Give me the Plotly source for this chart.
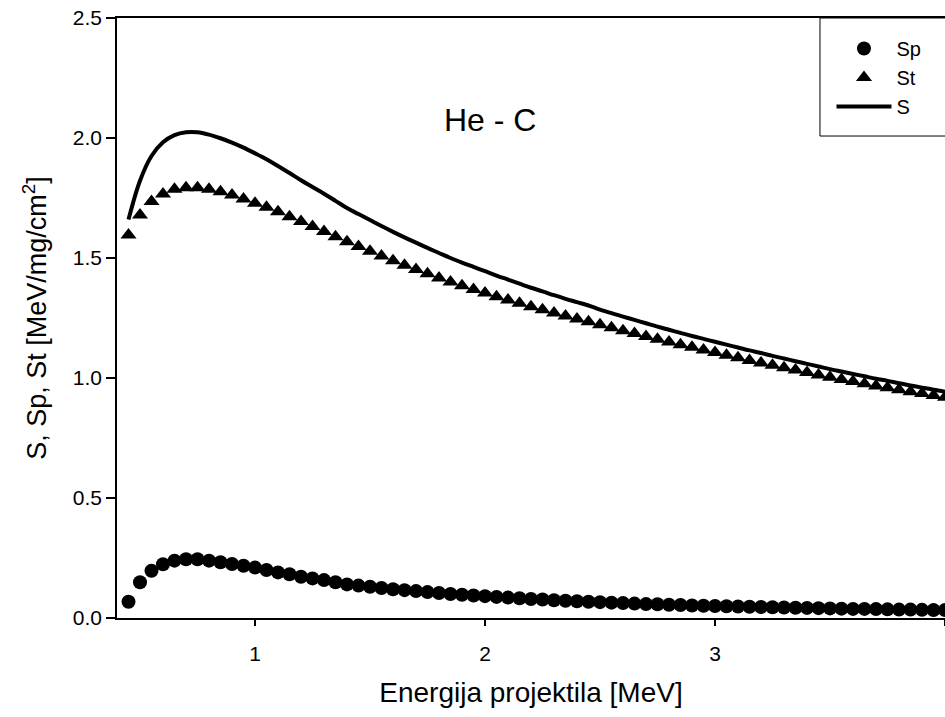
import plotly.graph_objects as go

energy = [0.45, 0.50, 0.55, 0.60, 0.65, 0.70, 0.75, 0.80, 0.85, 0.90, 0.95, 1.00,
          1.05, 1.10, 1.15, 1.20, 1.25, 1.30, 1.35, 1.40, 1.45, 1.50, 1.55, 1.60,
          1.65, 1.70, 1.75, 1.80, 1.85, 1.90, 1.95, 2.00, 2.05, 2.10, 2.15, 2.20,
          2.25, 2.30, 2.35, 2.40, 2.45, 2.50, 2.55, 2.60, 2.65, 2.70, 2.75, 2.80,
          2.85, 2.90, 2.95, 3.00, 3.05, 3.10, 3.15, 3.20, 3.25, 3.30, 3.35, 3.40,
          3.45, 3.50, 3.55, 3.60, 3.65, 3.70, 3.75, 3.80, 3.85, 3.90, 3.95, 4.00]

sp = [0.068, 0.149, 0.197, 0.224, 0.239, 0.245, 0.245, 0.239, 0.232, 0.225, 0.218, 0.210,
      0.200, 0.190, 0.182, 0.172, 0.165, 0.158, 0.149, 0.140, 0.135, 0.130, 0.125, 0.120,
      0.116, 0.112, 0.108, 0.104, 0.100, 0.097, 0.094, 0.091, 0.088, 0.085, 0.082, 0.079,
      0.077, 0.074, 0.072, 0.070, 0.068, 0.066, 0.064, 0.062, 0.060, 0.058, 0.057, 0.055,
      0.054, 0.052, 0.051, 0.050, 0.049, 0.048, 0.047, 0.046, 0.045, 0.044, 0.043, 0.042,
      0.041, 0.040, 0.039, 0.038, 0.038, 0.037, 0.036, 0.035, 0.035, 0.034, 0.033, 0.033]

st = [1.596, 1.679, 1.735, 1.767, 1.786, 1.793, 1.793, 1.786, 1.776, 1.762, 1.746, 1.728,
      1.711, 1.693, 1.672, 1.652, 1.631, 1.610, 1.589, 1.568, 1.548, 1.528, 1.508, 1.489,
      1.470, 1.452, 1.434, 1.417, 1.400, 1.384, 1.369, 1.354, 1.339, 1.325, 1.311, 1.297,
      1.284, 1.271, 1.258, 1.246, 1.234, 1.222, 1.209, 1.197, 1.185, 1.173, 1.161, 1.150,
      1.139, 1.128, 1.117, 1.106, 1.095, 1.084, 1.073, 1.063, 1.053, 1.043, 1.033, 1.023,
      1.013, 1.003, 0.994, 0.985, 0.976, 0.967, 0.959, 0.951, 0.943, 0.935, 0.927, 0.920]

s_total = [1.660, 1.822, 1.925, 1.982, 2.012, 2.024, 2.024, 2.014, 1.999, 1.981, 1.960, 1.936,
           1.911, 1.883, 1.854, 1.824, 1.796, 1.768, 1.738, 1.708, 1.683, 1.658, 1.633, 1.609,
           1.586, 1.564, 1.542, 1.521, 1.500, 1.481, 1.463, 1.445, 1.427, 1.410, 1.393, 1.376,
           1.361, 1.345, 1.330, 1.316, 1.302, 1.285, 1.270, 1.256, 1.242, 1.228, 1.214, 1.201,
           1.188, 1.175, 1.163, 1.151, 1.139, 1.127, 1.115, 1.104, 1.092, 1.081, 1.070, 1.059,
           1.048, 1.037, 1.027, 1.017, 1.007, 0.997, 0.988, 0.978, 0.969, 0.960, 0.951, 0.943]

x_ticks = [1, 2, 3, 4]
y_ticks = [0.0, 0.5, 1.0, 1.5, 2.0, 2.5]
y_tick_labels = ["0.0", "0.5", "1.0", "1.5", "2.0", "2.5"]

FONT = "Liberation Sans, Arial, sans-serif"

fig = go.Figure()
fig.add_trace(go.Scatter(x=energy, y=sp, mode="markers", name="Sp", legendgroup="a",
                         marker=dict(symbol="circle", size=14, color="black")))
fig.add_trace(go.Scatter(x=energy, y=st, mode="markers", name="St", legendgroup="b",
                         marker=dict(symbol="triangle-up", size=14, color="black")))
fig.add_trace(go.Scatter(x=energy, y=s_total, mode="lines", name="S", legendgroup="c",
                         line=dict(color="black", width=4, shape="spline")))

fig.add_annotation(x=2.02, y=2.075, xref="x", yref="y", text="He - C", showarrow=False,
                   font=dict(family=FONT, size=32, color="black"))

# legend frame
fig.add_shape(type="rect", xref="paper", yref="paper", x0=0.849, x1=1.05, y0=0.8033, y1=1.0,
              line=dict(color="black", width=1), fillcolor="white", layer="below")

fig.update_layout(
    width=945, height=717,
    margin=dict(l=117, r=0, t=18, b=99, autoexpand=False),
    paper_bgcolor="white", plot_bgcolor="white",
    font=dict(family=FONT, size=20, color="black"),
    showlegend=True,
    legend=dict(x=0.8629, y=0.9817, xanchor="left", yanchor="top", bgcolor="rgba(0,0,0,0)",
                borderwidth=0, font=dict(family=FONT, size=20, color="black"),
                itemwidth=55, tracegroupgap=0),
    xaxis=dict(range=[0.4, 4.0], tickmode="array", tickvals=x_ticks,
               ticks="outside", ticklen=6, tickwidth=1.5, tickcolor="black",
               showline=True, linecolor="black", linewidth=1.5, mirror=True,
               showgrid=False, zeroline=False, ticklabelstandoff=10,
               tickfont=dict(family=FONT, size=21, color="black"),
               title=dict(text="Energija projektila [MeV]", standoff=18,
                          font=dict(family=FONT, size=28, color="black"))),
    yaxis=dict(range=[0.0, 2.5], tickmode="array", tickvals=y_ticks, ticktext=y_tick_labels,
               ticks="outside", ticklen=9, tickwidth=1.5, tickcolor="black",
               showline=True, linecolor="black", linewidth=1.5, mirror=False,
               showgrid=False, zeroline=False,
               tickfont=dict(family=FONT, size=21, color="black"),
               title=dict(text="S, Sp, St [MeV/mg/cm<sup>2</sup>]", standoff=18,
                          font=dict(family=FONT, size=27, color="black"))),
)

fig.write_html("out.html")
